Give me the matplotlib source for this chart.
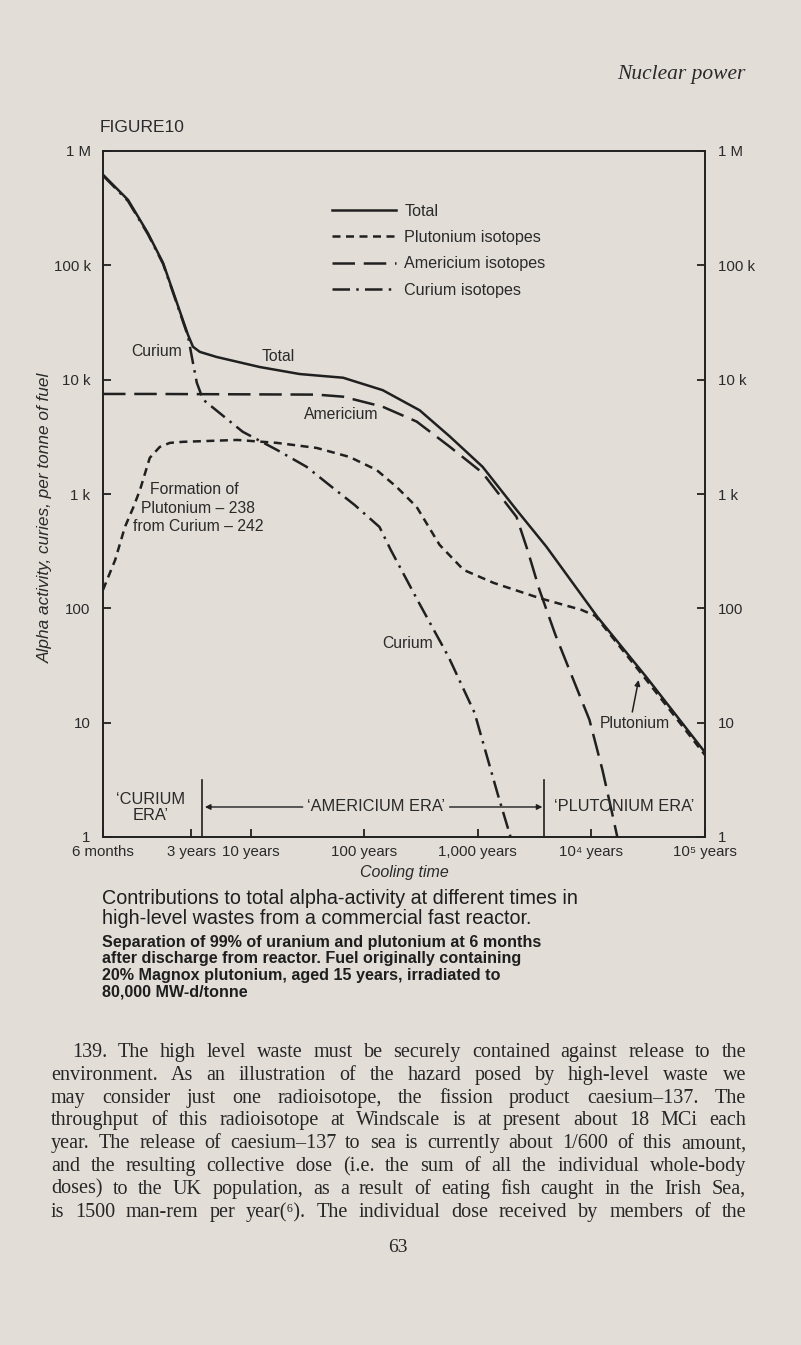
import matplotlib
matplotlib.use('Agg')
import matplotlib.pyplot as plt

W, H = 801, 1345
PAPER = '#e2ddd7'
INK = '#202020'
SANS = ['Liberation Sans', 'DejaVu Sans']
SERIF = ['Liberation Serif', 'DejaVu Serif']
plt.rcParams['font.family'] = SANS

# cooling time (years) vs alpha activity (curies per tonne of fuel)
total_t = [0.5, 0.83, 1.24, 1.69, 2.19, 2.8, 3.1, 3.56, 5.0, 12, 27, 65, 145, 307, 563,
           1100, 2190, 4020, 11300, 30500, 1e5]
total_a = [620e3, 374e3, 192e3, 105e3, 50e3, 24.7e3, 19.4e3, 17.5e3, 15.8e3, 12.9e3, 11.2e3,
           10.4e3, 8.1e3, 5.4e3, 3.2e3, 1730, 726, 345, 84, 25, 5.5]

pu_t = [0.5, 0.64, 0.78, 0.92, 1.06, 1.29, 1.58, 1.94, 2.53, 7.6, 17, 38, 74, 128, 193, 289,
        460, 748, 1375, 3480, 8160, 10800, 30500, 1e5]
pu_a = [145, 265, 515, 755, 1090, 2070, 2580, 2800, 2860, 2970, 2800, 2530, 2110, 1625, 1150,
        771, 359, 217, 167, 123, 97, 86, 23.6, 5.2]

am_t = [0.5, 1.3, 38, 65, 145, 289, 563, 1100, 2190, 2735, 3485, 4820, 6670, 9600, 12500,
        15000, 16900]
am_a = [7.5e3, 7.5e3, 7.4e3, 7.1e3, 5.8e3, 4.3e3, 2.6e3, 1530, 630, 324, 145, 58.5, 26.1,
        10.6, 3.86, 1.72, 1.0]

cm_t = [0.5, 0.83, 1.24, 1.69, 2.19, 2.8, 3.1, 3.35, 3.8, 8.5, 17, 31, 53, 82, 136, 171, 294,
        552, 935, 1490, 1940]
cm_a = [610e3, 365e3, 188e3, 103e3, 49e3, 24e3, 14e3, 9.4e3, 6.7e3, 3.5e3, 2430, 1730, 1130,
        803, 515, 324, 118, 37.6, 12.2, 2.4, 1.0]

x_ticks = [0.5, 3, 10, 100, 1000, 1e4, 1e5]
x_labels = ['6 months', '3 years', '10 years', '100 years', '1,000 years',
            '10\u2074 years', '10\u2075 years']
y_ticks = [1, 10, 100, 1e3, 1e4, 1e5, 1e6]
y_labels = ['1', '10', '100', '1 k', '10 k', '100 k', '1 M']

era_bounds = [3.7, 3850]  # years

fig = plt.figure(figsize=(W / 100, H / 100), dpi=100, facecolor=PAPER)
ax = fig.add_axes([103 / W, 1 - 837 / H, 602 / W, 686 / H])
ax.set_facecolor(PAPER)
ax.set_xscale('log')
ax.set_yscale('log')
ax.set_xlim(0.5, 1e5)
ax.set_ylim(1, 1e6)

lw = 1.8
ax.plot(total_t, total_a, color=INK, lw=lw, label='Total')
ax.plot(pu_t, pu_a, color=INK, lw=lw, dashes=(3.2, 2.2), label='Plutonium isotopes')
ax.plot(am_t, am_a, color=INK, lw=lw, dashes=(9, 3.5), label='Americium isotopes')
ax.plot(cm_t, cm_a, color=INK, lw=lw, dashes=(7, 2.5, 1, 2.5), label='Curium isotopes')

for s in ax.spines.values():
    s.set_linewidth(1.4)
    s.set_color(INK)

ax.set_xticks(x_ticks)
ax.set_xticklabels(x_labels)
ax.set_yticks(y_ticks)
ax.set_yticklabels(y_labels)
ax.minorticks_off()
ax.tick_params(axis='both', direction='in', length=6, width=1.3, color=INK,
               labelsize=10.8, labelcolor='#2a2a2a')
ax.tick_params(axis='y', left=True, right=True, labelleft=True, labelright=True, pad=9)
ax.tick_params(axis='x', pad=6)

leg = ax.legend(loc='upper left', bbox_to_anchor=(0.380, 0.923), frameon=False,
                handlelength=4.0, handletextpad=0.5, labelspacing=0.7, borderpad=0,
                borderaxespad=0, fontsize=11.6)
for t in leg.get_texts():
    t.set_color('#2a2a2a')

# curve labels
lab = dict(fontsize=11.3, color='#2a2a2a')
ax.text(17.3, 15.8e3, 'Total', ha='center', va='center', **lab)
ax.text(62, 5.0e3, 'Americium', ha='center', va='center', **lab)
ax.text(2.5, 17.5e3, 'Curium', ha='right', va='center', **lab)
ax.text(240, 48.9, 'Curium', ha='center', va='center', **lab)
ax.text(23900, 9.9, 'Plutonium', ha='center', va='center', **lab)
ax.annotate('', xy=(26000, 23.6), xytext=(22900, 12.4),
            arrowprops=dict(arrowstyle='-|>', color=INK, lw=1.1, mutation_scale=8,
                            shrinkA=0, shrinkB=0))
ax.text(1.29, 1090, 'Formation of', ha='left', va='center', **lab)
ax.text(1.07, 750, 'Plutonium \u2013 238', ha='left', va='center', **lab)
ax.text(0.92, 515, 'from Curium \u2013 242', ha='left', va='center', **lab)

# eras
era = dict(fontsize=11.8, color='#2a2a2a')
for b in era_bounds:
    ax.plot([b, b], [1, 3.15], color=INK, lw=1.2)
ax.text(1.32, 1.8, '\u2018CURIUM\nERA\u2019', ha='center', va='center', linespacing=1.1, **era)
ax.text(127, 1.83, '\u2018AMERICIUM ERA\u2019', ha='center', va='center', **era)
ax.text(19300, 1.83, '\u2018PLUTONIUM ERA\u2019', ha='center', va='center', **era)
arr = dict(arrowstyle='-|>', color=INK, lw=1.0, mutation_scale=8, shrinkA=0, shrinkB=0)
ax.annotate('', xy=(3.95, 1.83), xytext=(28.7, 1.83), arrowprops=arr)
ax.annotate('', xy=(3700, 1.83), xytext=(564, 1.83), arrowprops=arr)

# page furniture
fig.text(681 / W, 1 - 75 / H, 'Nuclear power', family=SERIF, style='italic', fontsize=15.5,
         color='#2a2a2a', ha='center', va='center')
fig.text(100 / W, 1 - 128 / H, 'FIGURE10', fontsize=12.5, color='#2a2a2a', ha='left', va='center')
fig.text(45 / W, 1 - 518 / H, 'Alpha activity, curies, per tonne of fuel', rotation=90,
         style='italic', fontsize=12.4, color='#2a2a2a', ha='center', va='center')
fig.text(404 / W, 1 - 873 / H, 'Cooling time', style='italic', fontsize=11.5, color='#2a2a2a',
         ha='center', va='center')

cap1 = ['Contributions to total alpha-activity at different times in',
        'high-level wastes from a commercial fast reactor.']
cap2 = ['Separation of 99% of uranium and plutonium at 6 months',
        'after discharge from reactor. Fuel originally containing',
        '20% Magnox plutonium, aged 15 years, irradiated to',
        '80,000 MW-d/tonne']
for i, s in enumerate(cap1):
    fig.text(102 / W, 1 - (898 + 20 * i) / H, s, fontsize=14.2, color='#1e1e1e',
             ha='left', va='center')
for i, s in enumerate(cap2):
    fig.text(102 / W, 1 - (942 + 16.8 * i) / H, s, fontsize=11.6, weight='bold',
             color='#1e1e1e', ha='left', va='center')

body = ['139. The high level waste must be securely contained against release to the',
        'environment. As an illustration of the hazard posed by high-level waste we',
        'may consider just one radioisotope, the fission product caesium\u2013137. The',
        'throughput of this radioisotope at Windscale is at present about 18 MCi each',
        'year. The release of caesium\u2013137 to sea is currently about 1/600 of this amount,',
        'and the resulting collective dose (i.e. the sum of all the individual whole-body',
        'doses) to the UK population, as a result of eating fish caught in the Irish Sea,',
        'is 1500 man-rem per year(\u2076). The individual dose received by members of the']

renderer = fig.canvas.get_renderer()

# pick the body size so the widest line still fits the measure with normal spacing
probe_fs = 14.0
widest = 0
for i, line in enumerate(body):
    t = fig.text(0, 0, line, family=SERIF, fontsize=probe_fs)
    w = t.get_window_extent(renderer).width + (21 if i == 0 else 0)
    widest = max(widest, w)
    t.remove()
body_fs = min(14.5, probe_fs * 690 / widest)

for i, line in enumerate(body):
    x0 = 72 if i == 0 else 51
    x1 = 746
    yb = 1 - (1051 + 22.8 * i + 6) / H
    words = line.split()
    texts = [fig.text(0, yb, w, family=SERIF, fontsize=body_fs, color='#262626',
                      ha='left', va='baseline') for w in words]
    widths = [t.get_window_extent(renderer).width for t in texts]
    gap = (x1 - x0 - sum(widths)) / (len(words) - 1)
    x = x0
    for t, w in zip(texts, widths):
        t.set_x(x / W)
        x += w + gap

fig.text(398 / W, 1 - 1247 / H, '63', family=SERIF, fontsize=14, color='#262626',
         ha='center', va='center')

fig.savefig('out.png', dpi=100, facecolor=PAPER)
